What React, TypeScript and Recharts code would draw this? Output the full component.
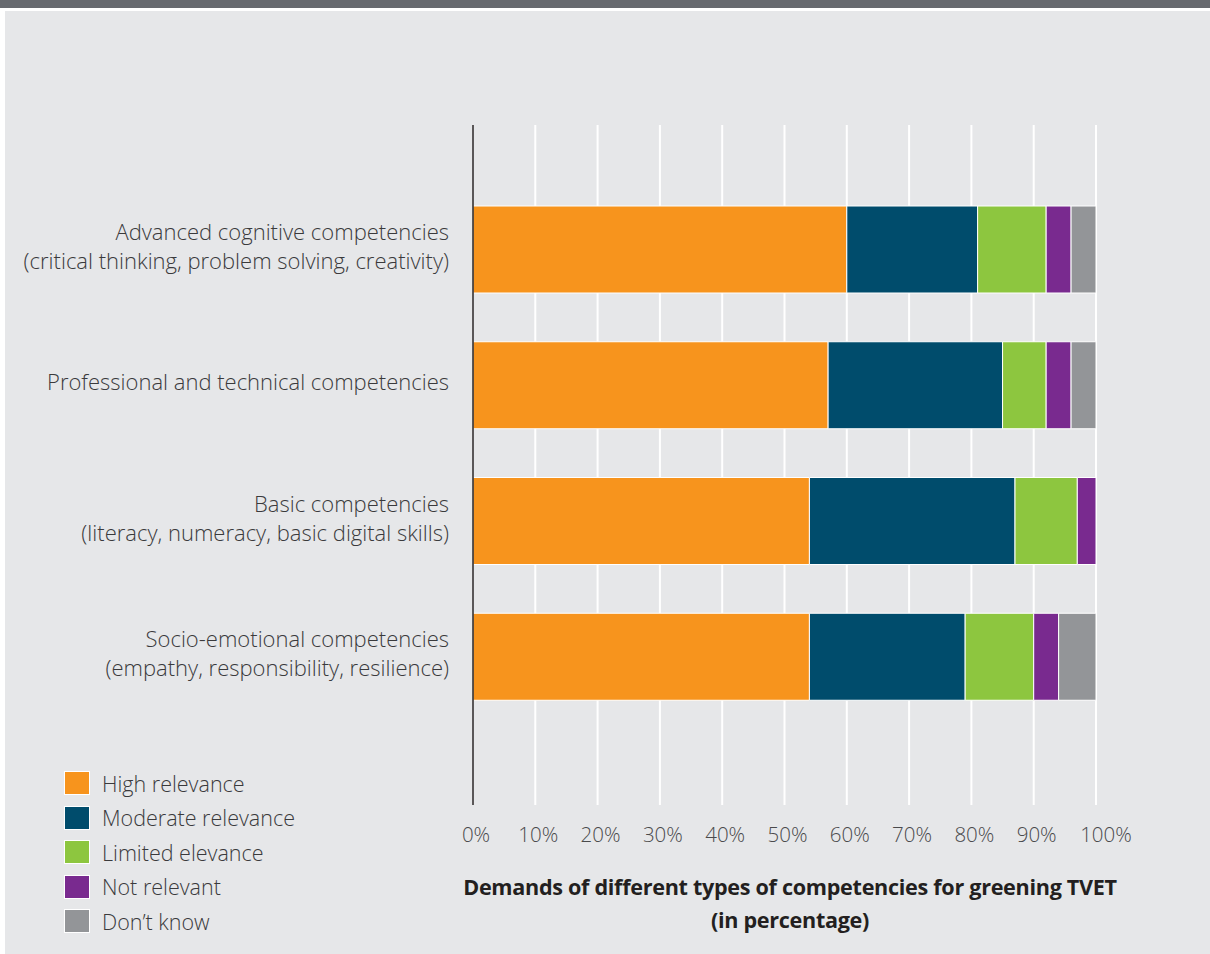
import { BarChart, Bar, XAxis, YAxis, CartesianGrid } from "recharts";

const categories = [
  "Advanced cognitive competencies\n(critical thinking, problem solving, creativity)",
  "Professional and technical competencies",
  "Basic competencies\n(literacy, numeracy, basic digital skills)",
  "Socio-emotional competencies\n(empathy, responsibility, resilience)",
];
const high = [60, 57, 54, 54];
const moderate = [21, 28, 33, 25];
const limited = [11, 7, 10, 11];
const notRelevant = [4, 4, 3, 4];
const dontKnow = [4, 4, 0, 6];
const xTicks = [0, 10, 20, 30, 40, 50, 60, 70, 80, 90, 100];

const series = [
  { key: "high", name: "High relevance", color: "#f7941d" },
  { key: "moderate", name: "Moderate relevance", color: "#004c6c" },
  { key: "limited", name: "Limited elevance", color: "#8dc63f" },
  { key: "notRelevant", name: "Not relevant", color: "#792a8f" },
  { key: "dontKnow", name: "Don\u2019t know", color: "#939598" },
];

const data = categories.map((c, i) => ({
  category: c,
  high: high[i],
  moderate: moderate[i],
  limited: limited[i],
  notRelevant: notRelevant[i],
  dontKnow: dontKnow[i],
}));

const FONT = "'Open Sans', 'Noto Sans', sans-serif";

function CategoryTick(props: any) {
  const { x, y, payload } = props;
  const lines = String(payload.value).split("\n");
  const lh = 29;
  const y0 = y - ((lines.length - 1) * lh) / 2 - 3;
  return (
    <text x={x - 16} y={y0} textAnchor="end" fill="#3a3a3c" fontSize={22} fontFamily={FONT} fontWeight={300}>
      {lines.map((l, i) => (
        <tspan key={i} x={x - 16} y={y0 + i * lh} dy="0.35em">
          {l}
        </tspan>
      ))}
    </text>
  );
}

function PercentTick(props: any) {
  const { x, y, payload } = props;
  // the last label sits a little to the right in the original
  const nudge = payload.value === 100 ? 10 : 3;
  return (
    <text x={x + nudge} y={y} dy="0.71em" textAnchor="middle" fill="#4a4a4c" fontSize={20.5} fontFamily={FONT} fontWeight={300}>
      {`${payload.value}%`}
    </text>
  );
}

function LegendBox() {
  return (
    <div style={{ fontFamily: FONT }}>
      {series.map((s) => (
        <div key={s.key} style={{ display: "flex", alignItems: "center", height: 34.5 }}>
          <div
            style={{
              width: 26,
              height: 24,
              background: s.color,
              border: "1px solid #fff",
              boxSizing: "border-box",
              marginRight: 12,
            }}
          />
          <span style={{ fontSize: 21.5, color: "#3a3a3c", fontWeight: 300 }}>{s.name}</span>
        </div>
      ))}
    </div>
  );
}

export default function App() {
  return (
    <div style={{ position: "absolute", left: 0, top: 0, width: 1210, height: 954, background: "#ffffff", overflow: "hidden" }}>
      <div style={{ position: "absolute", left: 0, top: 0, width: 1210, height: 8, background: "#676a6f" }} />
      <div style={{ position: "absolute", left: 5, top: 11, width: 1205, height: 943, background: "#e6e7e9" }} />
      <div style={{ position: "absolute", left: 0, top: 0 }}>
        <BarChart
          width={1210}
          height={954}
          data={data}
          layout="vertical"
          margin={{ top: 125, right: 114, left: 0, bottom: 119 }}
        >
          <CartesianGrid horizontal={false} stroke="#ffffff" strokeWidth={2} />
          <XAxis
            type="number"
            domain={[0, 100]}
            ticks={xTicks}
            interval={0}
            axisLine={false}
            tickLine={false}
            tickMargin={16}
            height={30}
            tick={<PercentTick />}
          />
          <YAxis
            type="category"
            dataKey="category"
            width={473}
            axisLine={{ stroke: "#231f20", strokeWidth: 1.5 }}
            tickLine={false}
            padding={{ top: 57, bottom: 80 }}
            tick={<CategoryTick />}
            interval={0}
          />
          {series.map((s) => (
            <Bar
              key={s.key}
              dataKey={s.key}
              name={s.name}
              stackId="a"
              fill={s.color}
              stroke="#ffffff"
              strokeWidth={1}
              barSize={87}
              isAnimationActive={false}
            />
          ))}
        </BarChart>
      </div>
      <div style={{ position: "absolute", left: 64, top: 766 }}>
        <LegendBox />
      </div>
      <div
        style={{
          position: "absolute",
          left: 430,
          top: 870,
          width: 720,
          textAlign: "center",
          fontFamily: FONT,
          fontWeight: 700,
          fontSize: 21.6,
          letterSpacing: -0.3,
          lineHeight: "33px",
          color: "#231f20",
        }}
      >
        Demands of different types of competencies for greening TVET
        <br />
        (in percentage)
      </div>
    </div>
  );
}
